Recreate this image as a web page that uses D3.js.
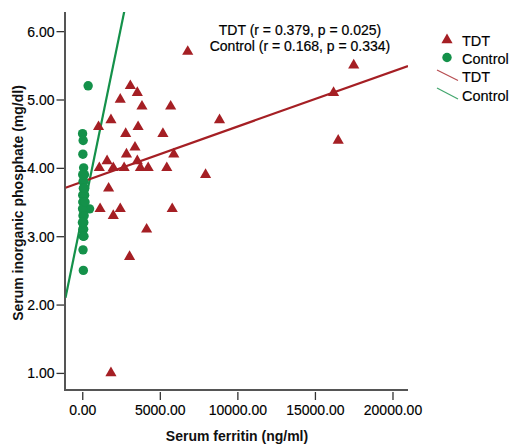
<!DOCTYPE html>
<html><head><meta charset="utf-8">
<script src="https://cdn.jsdelivr.net/npm/d3@7"></script>
<style>body{margin:0;background:#fff}svg{display:block;font-family:"Liberation Sans",Arial,sans-serif}</style>
</head><body><svg id="c" width="512" height="445"></svg>
<script>
// TDT group: serum ferritin (ng/ml), serum inorganic phosphate (mg/dl)
const tdtFerritin = [6800,3100,3550,2450,3850,5700,1850,8850,1050,3600,2800,5200,3400,2850,5900,1600,3550,1100,2000,2700,3750,4250,5450,7950,1700,1150,2450,5800,2000,4150,3050,1850,17500,16200,16500];
const tdtPhosphate = [5.7,5.2,5.1,5.0,4.9,4.9,4.7,4.7,4.6,4.6,4.5,4.5,4.3,4.2,4.2,4.1,4.1,4.0,4.0,4.0,4.0,4.0,4.0,3.9,3.7,3.4,3.4,3.4,3.3,3.1,2.7,1.0,5.5,5.1,4.4];
// Control group
const ctlFerritin = [380,20,60,40,90,50,100,70,120,30,80,150,60,110,40,90,130,470,50,80,70,100,40,90,60,110,50,70,140,30,160,20,180,120,10];
const ctlPhosphate = [5.2,4.5,4.4,4.2,4.0,3.8,3.8,3.7,3.7,3.6,3.6,3.6,3.5,3.5,3.5,3.4,3.4,3.4,3.3,3.3,3.2,3.2,3.1,3.1,3.0,3.0,2.8,2.5,3.9,3.9,3.7,3.4,3.5,3.3,3.2];
// Fit lines (endpoints)
const tdtFitX = [-1080, 21000], tdtFitY = [3.71, 5.49];
const ctlFitX = [-1080, 2720], ctlFitY = [2.10, 6.30];
const xTicks = [0,5000,10000,15000,20000];
const yTicks = [1,2,3,4,5,6];
const annotation = ["TDT (r = 0.379, p = 0.025)", "Control (r = 0.168, p = 0.334)"];
const legendItems = ["TDT","Control","TDT","Control"];

const red = "#a51f24", green = "#14914a";
const svg = d3.select("#c");
const L = 65.5, R = 408, T = 12, B = 390;
const x = d3.scaleLinear().domain([-1080, 21000]).range([L, R]);
const y = d3.scaleLinear().domain([0.75, 6.28]).range([B, T]);

svg.append("defs").append("clipPath").attr("id","clip")
  .append("rect").attr("x",L).attr("y",T).attr("width",R-L).attr("height",B-T);

// axes
const yAx = svg.append("g").attr("transform",`translate(${L-1},0)`)
  .call(d3.axisLeft(y).tickValues(yTicks).tickFormat(d3.format(".2f")).tickSize(8).tickSizeOuter(0));
const xAx = svg.append("g").attr("transform",`translate(0,${B+2})`)
  .call(d3.axisBottom(x).tickValues(xTicks).tickFormat(d3.format(".2f")).tickSize(8).tickSizeOuter(0));
[yAx,xAx].forEach(g=>{
  g.select(".domain").remove();
  g.selectAll("line").attr("stroke","#333").attr("stroke-width",1.3);
  g.selectAll("text").attr("font-size",14).attr("fill","#000").attr("stroke","#000").attr("stroke-width",0.15)
    .attr("font-family","Liberation Sans, Arial, sans-serif");
});
yAx.selectAll("text").attr("x",-10).attr("dy","0.36em");
xAx.selectAll("text").attr("y",13);
// frame lines
svg.append("line").attr("x1",L-0.5).attr("x2",L-0.5).attr("y1",T).attr("y2",B+1).attr("stroke","#555").attr("stroke-width",2);
svg.append("line").attr("x1",L-1.5).attr("x2",R).attr("y1",B).attr("y2",B).attr("stroke","#555").attr("stroke-width",2);

// titles
svg.append("text").attr("x",237).attr("y",441).attr("text-anchor","middle")
  .attr("font-size",14).attr("font-weight","bold").attr("fill","#111").text("Serum ferritin (ng/ml)");
svg.append("text").attr("transform","translate(23,203) rotate(-90)").attr("text-anchor","middle")
  .attr("font-size",14).attr("font-weight","bold").attr("fill","#111").text("Serum inorganic phosphate (mg/dl)");

const plot = svg.append("g").attr("clip-path","url(#clip)");
// fit lines
const line = d3.line().x(d=>x(d[0])).y(d=>y(d[1]));
plot.append("path").datum(d3.zip(ctlFitX, ctlFitY)).attr("d",line).attr("stroke",green).attr("stroke-width",2.2).attr("fill","none");
plot.append("path").datum(d3.zip(tdtFitX, tdtFitY)).attr("d",line).attr("stroke",red).attr("stroke-width",2.2).attr("fill","none");

// points
const tri = d3.symbol().type(d3.symbolTriangle).size(54);
svg.append("g").selectAll("circle").data(d3.zip(ctlFerritin, ctlPhosphate)).join("circle")
  .attr("cx",d=>x(d[0])).attr("cy",d=>y(d[1])).attr("r",4.7).attr("fill",green);
svg.append("g").selectAll("path").data(d3.zip(tdtFerritin, tdtPhosphate)).join("path")
  .attr("d",tri).attr("transform",d=>`translate(${x(d[0])},${y(d[1])})`).attr("fill",red);

// annotation
svg.append("g").selectAll("text").data(annotation).join("text")
  .attr("x",300).attr("y",(d,i)=>35+i*16).attr("text-anchor","middle")
  .attr("font-size",14).attr("fill","#000").attr("stroke","#000").attr("stroke-width",0.2).text(d=>d);

// legend
const lg = svg.append("g");
lg.append("path").attr("d",tri).attr("transform","translate(447,40)").attr("fill",red);
lg.append("circle").attr("cx",447).attr("cy",57.5).attr("r",4.7).attr("fill",green);
lg.append("line").attr("x1",437).attr("y1",70).attr("x2",458).attr("y2",80.5).attr("stroke",red).attr("stroke-width",1.2).attr("opacity",0.8);
lg.append("line").attr("x1",437).attr("y1",88).attr("x2",458).attr("y2",99).attr("stroke",green).attr("stroke-width",1.2).attr("opacity",0.8);
lg.selectAll("text").data(legendItems).join("text")
  .attr("x",462).attr("y",(d,i)=>[41,59,77,96][i]).attr("dy","0.36em")
  .attr("font-size",14.5).attr("fill","#000").attr("stroke","#000").attr("stroke-width",0.15).text(d=>d);
</script></body></html>
